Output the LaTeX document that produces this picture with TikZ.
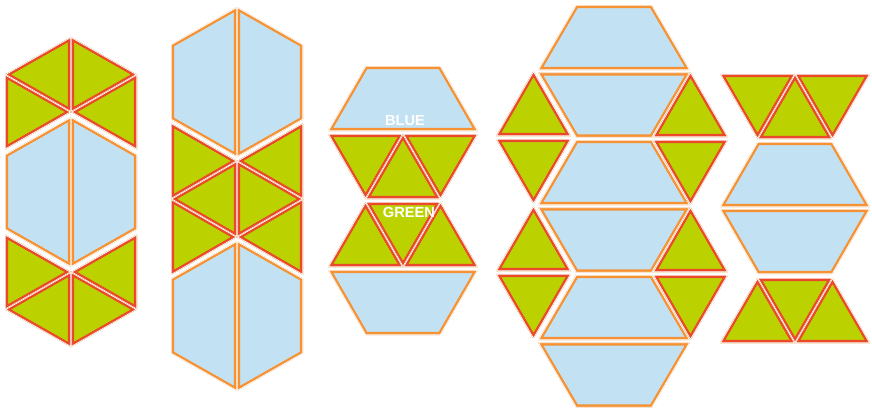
\documentclass[tikz,border=0pt]{standalone}
\usepackage{fontspec}
\newfontfamily\labelfont{Liberation Sans}
\definecolor{tileblue}{RGB}{194,226,243}
\definecolor{tileorange}{RGB}{246,146,52}
\definecolor{tilegreen}{RGB}{188,210,0}
\definecolor{tilered}{RGB}{234,74,42}
% one pattern block: fill, inner outline, thin white rim
\newcommand{\patternpiece}[3]{%
  \begin{scope}
    \clip #3;
    \fill[#1] #3;
    \draw[#2, line width=5.2pt] #3;
    \draw[white, line width=1.2pt] #3;
  \end{scope}}
\newcommand{\bluepiece}[1]{\patternpiece{tileblue}{tileorange}{#1}}
\newcommand{\greenpiece}[1]{\patternpiece{tilegreen}{tilered}{#1}}
\tikzset{
  label text/.style={text=white, inner sep=0pt,
    font=\labelfont\bfseries\fontsize{12.5}{14}\selectfont}
}

\begin{document}
\begin{tikzpicture}[x=0.03cm, y=-0.03cm]
  \useasboundingbox (0,0) rectangle (872,410);
  % 1: green / blue hexagon / green, vertical
  \greenpiece{(71,37)--(5,74.5)--(71,112)--cycle}
  \greenpiece{(5,74.5)--(5,149.5)--(71,112)--cycle}
  \greenpiece{(71,37)--(137,74.5)--(71,112)--cycle}
  \greenpiece{(137,74.5)--(137,149.5)--(71,112)--cycle}
  \bluepiece{(71,117)--(5,154.5)--(5,229.5)--(71,267)--cycle}
  \bluepiece{(71,117)--(137,154.5)--(137,229.5)--(71,267)--cycle}
  \greenpiece{(5,234.5)--(71,272)--(5,309.5)--cycle}
  \greenpiece{(5,309.5)--(71,272)--(71,347)--cycle}
  \greenpiece{(137,234.5)--(71,272)--(137,309.5)--cycle}
  \greenpiece{(137,309.5)--(71,272)--(71,347)--cycle}
  % 2: blue hexagon / six triangles / blue hexagon
  \bluepiece{(237,7)--(171,44.5)--(171,119.5)--(237,157)--cycle}
  \bluepiece{(237,7)--(303,44.5)--(303,119.5)--(237,157)--cycle}
  \greenpiece{(171,123)--(237,161)--(171,199)--cycle}
  \greenpiece{(237,161)--(237,237)--(171,199)--cycle}
  \greenpiece{(171,199)--(237,237)--(171,275)--cycle}
  \greenpiece{(303,123)--(237,161)--(303,199)--cycle}
  \greenpiece{(237,161)--(237,237)--(303,199)--cycle}
  \greenpiece{(303,199)--(237,237)--(303,275)--cycle}
  \bluepiece{(237,241)--(171,278.5)--(171,353.5)--(237,391)--cycle}
  \bluepiece{(237,241)--(303,278.5)--(303,353.5)--(237,391)--cycle}
  % 3: trapezoid / two rows of triangles / trapezoid
  \bluepiece{(365.5,66)--(440.5,66)--(478,131)--(328,131)--cycle}
  \greenpiece{(328,134)--(403,134)--(365.5,199)--cycle}
  \greenpiece{(365.5,199)--(403,134)--(440.5,199)--cycle}
  \greenpiece{(403,134)--(478,134)--(440.5,199)--cycle}
  \greenpiece{(328,267)--(365.5,202)--(403,267)--cycle}
  \greenpiece{(365.5,202)--(440.5,202)--(403,267)--cycle}
  \greenpiece{(403,267)--(440.5,202)--(478,267)--cycle}
  \bluepiece{(328,270)--(478,270)--(440.5,335)--(365.5,335)--cycle}
  \node[label text] (bluelabel) at (405,120.5) {BLUE};
  \node[label text] (greenlabel) at (409,212.5) {GREEN};
  % 4: column of six trapezoids, triangles in the notches
  \bluepiece{(576,5)--(652,5)--(690,70)--(538,70)--cycle}
  \bluepiece{(538,72.5)--(690,72.5)--(652,137.5)--(576,137.5)--cycle}
  \bluepiece{(576,140)--(652,140)--(690,205)--(538,205)--cycle}
  \bluepiece{(538,207.5)--(690,207.5)--(652,272.5)--(576,272.5)--cycle}
  \bluepiece{(576,275)--(652,275)--(690,340)--(538,340)--cycle}
  \bluepiece{(538,342.5)--(690,342.5)--(652,407.5)--(576,407.5)--cycle}
  \greenpiece{(496,136)--(533.5,71)--(571,136)--cycle}
  \greenpiece{(496,139)--(571,139)--(533.5,204)--cycle}
  \greenpiece{(496,271)--(533.5,206)--(571,271)--cycle}
  \greenpiece{(496,274)--(571,274)--(533.5,339)--cycle}
  \greenpiece{(653,137)--(690.5,72)--(728,137)--cycle}
  \greenpiece{(653,140)--(728,140)--(690.5,205)--cycle}
  \greenpiece{(653,272)--(690.5,207)--(728,272)--cycle}
  \greenpiece{(653,275)--(728,275)--(690.5,340)--cycle}
  % 5: triangles / blue hexagon cut across / triangles
  \greenpiece{(720,74)--(795,74)--(757.5,139)--cycle}
  \greenpiece{(757.5,139)--(795,74)--(832.5,139)--cycle}
  \greenpiece{(795,74)--(870,74)--(832.5,139)--cycle}
  \bluepiece{(757.5,142)--(832.5,142)--(870,207)--(720,207)--cycle}
  \bluepiece{(720,209)--(870,209)--(832.5,274)--(757.5,274)--cycle}
  \greenpiece{(720,343)--(757.5,278)--(795,343)--cycle}
  \greenpiece{(757.5,278)--(832.5,278)--(795,343)--cycle}
  \greenpiece{(795,343)--(832.5,278)--(870,343)--cycle}
\end{tikzpicture}
\end{document}
